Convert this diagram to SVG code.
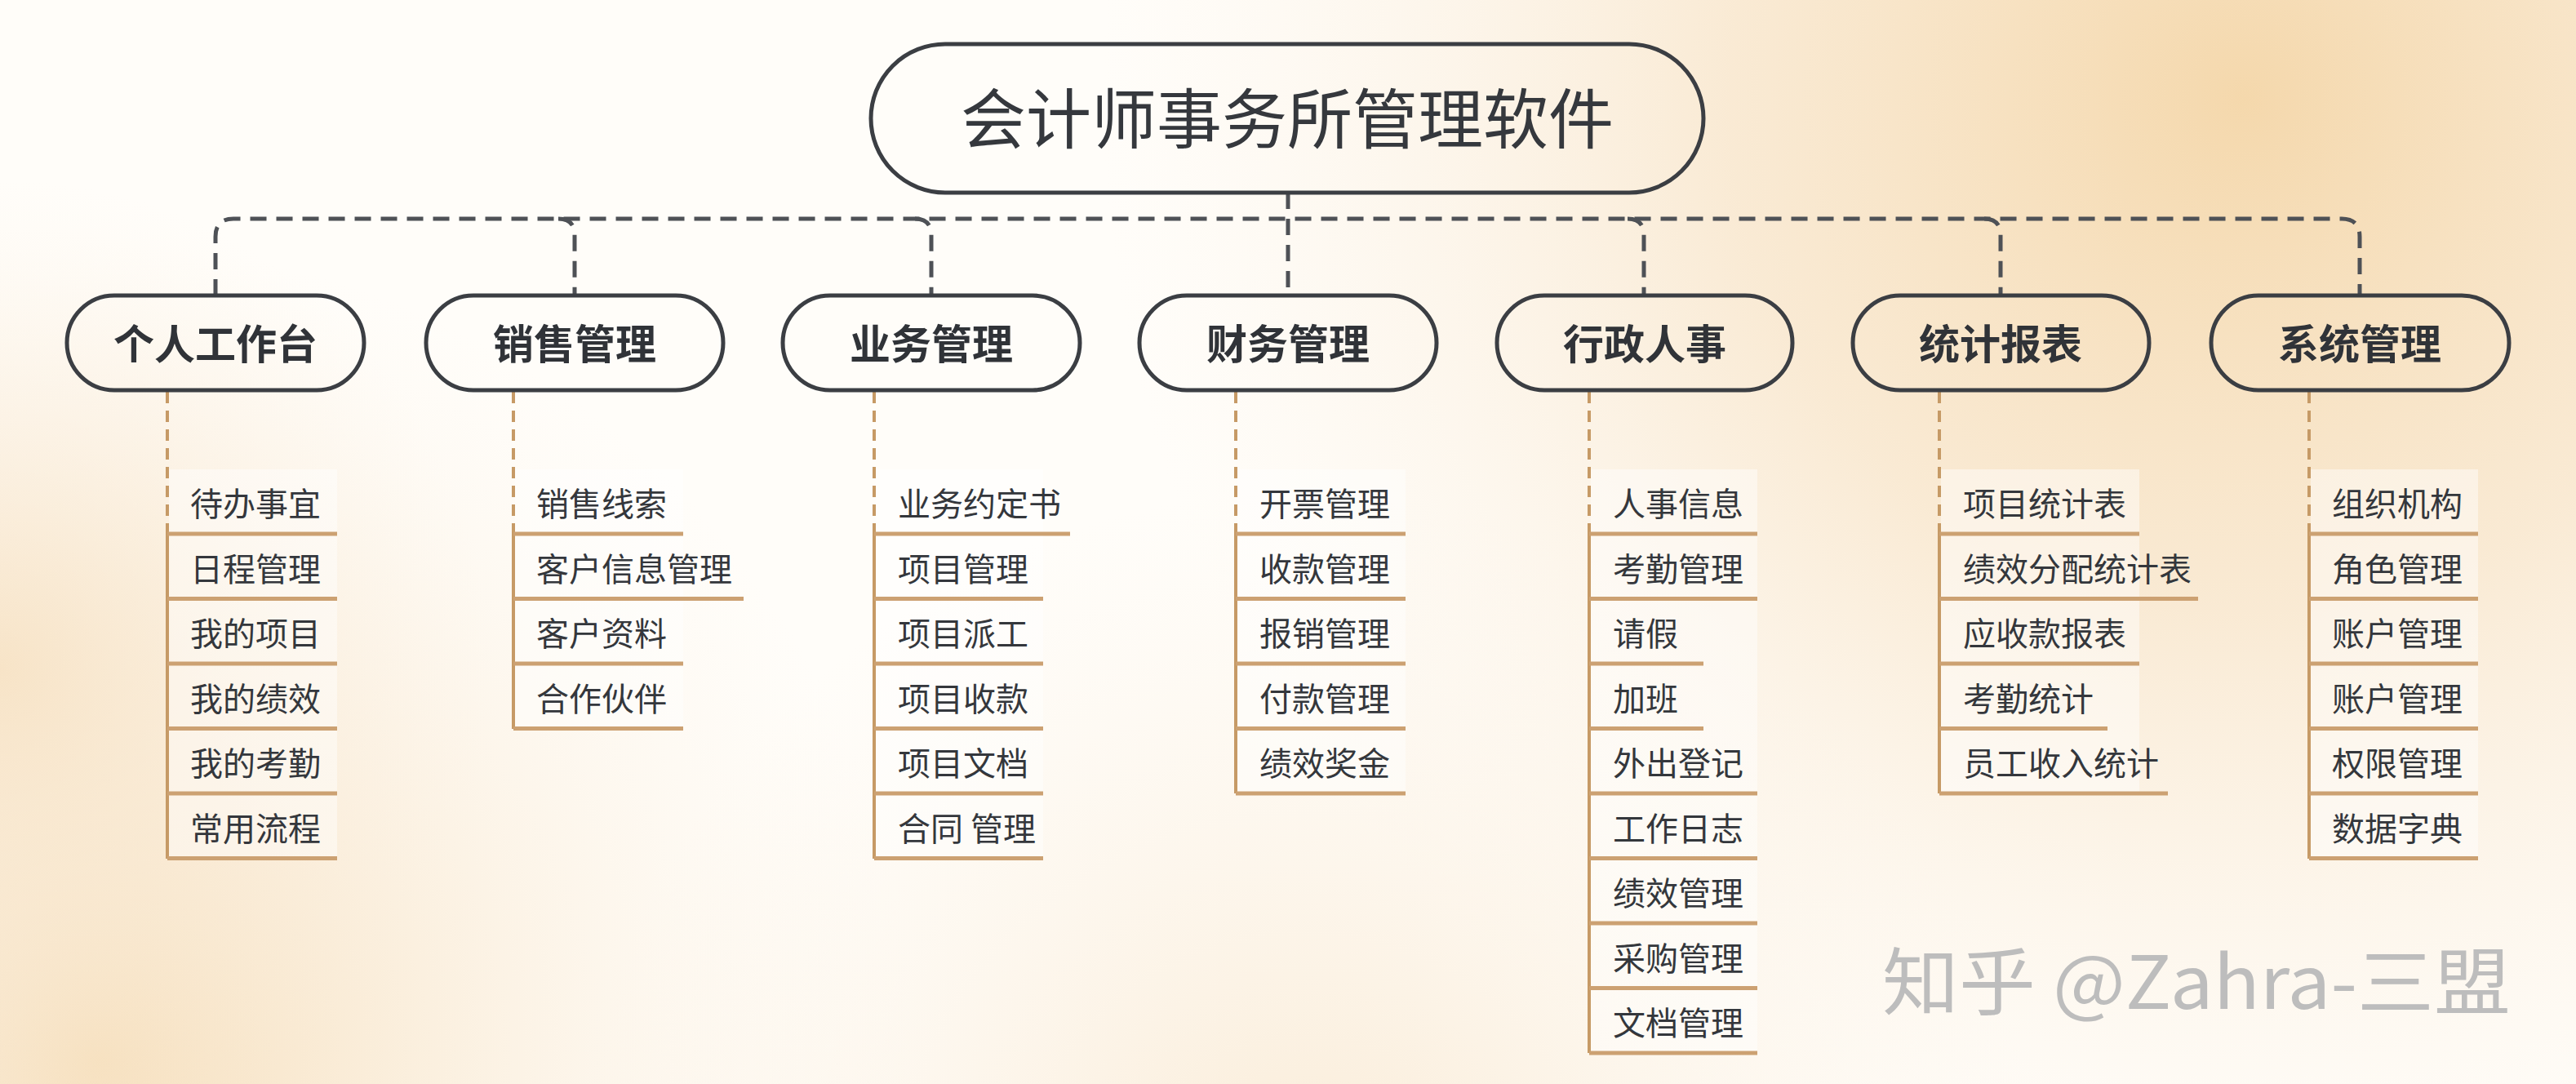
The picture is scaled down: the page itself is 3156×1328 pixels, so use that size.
<svg xmlns="http://www.w3.org/2000/svg" width="3156" height="1328" viewBox="0 0 3156 1328">
<defs>
<radialGradient id="gA" cx="2750" cy="120" r="1400" gradientUnits="userSpaceOnUse">
<stop offset="0" stop-color="#f4d6a8" stop-opacity="0.95"/>
<stop offset="0.45" stop-color="#f7e2c4" stop-opacity="0.7"/>
<stop offset="1" stop-color="#fbf1e4" stop-opacity="0"/>
</radialGradient>
<radialGradient id="gB" cx="120" cy="1300" r="1000" gradientUnits="userSpaceOnUse">
<stop offset="0" stop-color="#f5dcb6" stop-opacity="0.9"/>
<stop offset="1" stop-color="#fbf0e2" stop-opacity="0"/>
</radialGradient>
<radialGradient id="gC" cx="0" cy="820" r="600" gradientUnits="userSpaceOnUse">
<stop offset="0" stop-color="#f6e0c0" stop-opacity="0.8"/>
<stop offset="1" stop-color="#fbf0e2" stop-opacity="0"/>
</radialGradient>
<radialGradient id="gD" cx="1600" cy="1500" r="900" gradientUnits="userSpaceOnUse">
<stop offset="0" stop-color="#f7e3c6" stop-opacity="0.7"/>
<stop offset="1" stop-color="#fbf0e2" stop-opacity="0"/>
</radialGradient>
<style>
.box{fill:none;stroke:#3b3e43;stroke-width:5}
.root-t{font-family:"Noto Sans CJK SC","Noto Sans",sans-serif;font-size:80px;fill:#35383d;text-anchor:middle}
.cat-t{font-family:"Noto Sans CJK SC","Noto Sans",sans-serif;font-size:50px;font-weight:700;fill:#303338;text-anchor:middle}
.item-t{font-family:"Noto Sans CJK SC","Noto Sans",sans-serif;font-size:40px;fill:#34373c}
.bus{fill:none;stroke:#4e5156;stroke-width:5;stroke-dasharray:20 12}
.vdash{fill:none;stroke:#c69a66;stroke-width:4;stroke-dasharray:14 9}
.vsolid{fill:none;stroke:#c69a66;stroke-width:4}
.hl{fill:none;stroke:#cca172;stroke-width:5}
.cell{fill:#ffffff;fill-opacity:0.45}
.wm{font-family:"Noto Sans CJK SC","Noto Sans",sans-serif;font-size:90px;fill:#bdbdbd}
</style>
</defs>
<rect width="3156" height="1328" fill="#fffdf9"/>
<rect width="3156" height="1328" fill="url(#gA)"/>
<rect width="3156" height="1328" fill="url(#gB)"/>
<rect width="3156" height="1328" fill="url(#gC)"/>
<rect width="3156" height="1328" fill="url(#gD)"/>

<g id="connectors">
<path class="bus" d="M1578,236 V362"/>
<path class="bus" d="M264,362 V290 Q264,268 286,268 H2869 Q2891,268 2891,290 V362"/>
<path class="bus" d="M684,268 Q704,268 704,288 V362"/>
<path class="bus" d="M1121,268 Q1141,268 1141,288 V362"/>
<path class="bus" d="M1994,268 Q2014,268 2014,288 V362"/>
<path class="bus" d="M2431,268 Q2451,268 2451,288 V362"/>
<path class="vdash" d="M205,480 V654 M629,480 V654 M1071,480 V654 M1514,480 V654 M1947,480 V654 M2376,480 V654 M2829,480 V654"/>
<path class="vsolid" d="M205,654 V1052 M629,654 V893 M1071,654 V1052 M1514,654 V972 M1947,654 V1290 M2376,654 V972 M2829,654 V1052"/>
</g>

<g id="root">
<rect class="box" x="1067" y="54" width="1020" height="182" rx="91"/>
<text class="root-t" x="1577" y="175">会计师事务所管理软件</text>
</g>

<g id="cat-1"><rect class="box" x="82" y="362" width="364" height="116" rx="58"/><text class="cat-t" x="264" y="440">个人工作台</text></g>
<g id="cat-2"><rect class="box" x="522" y="362" width="364" height="116" rx="58"/><text class="cat-t" x="704" y="440">销售管理</text></g>
<g id="cat-3"><rect class="box" x="959" y="362" width="364" height="116" rx="58"/><text class="cat-t" x="1141" y="440">业务管理</text></g>
<g id="cat-4"><rect class="box" x="1396" y="362" width="364" height="116" rx="58"/><text class="cat-t" x="1578" y="440">财务管理</text></g>
<g id="cat-5"><rect class="box" x="1834" y="362" width="362" height="116" rx="58"/><text class="cat-t" x="2015" y="440">行政人事</text></g>
<g id="cat-6"><rect class="box" x="2270" y="362" width="363" height="116" rx="58"/><text class="cat-t" x="2451" y="440">统计报表</text></g>
<g id="cat-7"><rect class="box" x="2709" y="362" width="365" height="116" rx="58"/><text class="cat-t" x="2891" y="440">系统管理</text></g>

<g id="items-1">
<rect class="cell" x="207" y="575" width="206" height="477"/>
<path class="hl" d="M205,654 H413 M205,733.5 H413 M205,813 H413 M205,892.5 H413 M205,972 H413 M205,1051.5 H413"/>
<text class="item-t" x="233" y="632">待办事宜</text>
<text class="item-t" x="233" y="711.5">日程管理</text>
<text class="item-t" x="233" y="791">我的项目</text>
<text class="item-t" x="233" y="870.5">我的绩效</text>
<text class="item-t" x="233" y="950">我的考勤</text>
<text class="item-t" x="233" y="1029.5">常用流程</text>
</g>

<g id="items-2">
<rect class="cell" x="631" y="575" width="206" height="318"/>
<path class="hl" d="M629,654 H837 M629,733.5 H911 M629,813 H837 M629,892.5 H837"/>
<text class="item-t" x="657" y="632">销售线索</text>
<text class="item-t" x="657" y="711.5">客户信息管理</text>
<text class="item-t" x="657" y="791">客户资料</text>
<text class="item-t" x="657" y="870.5">合作伙伴</text>
</g>

<g id="items-3">
<rect class="cell" x="1073" y="575" width="205" height="477"/>
<path class="hl" d="M1071,654 H1311 M1071,733.5 H1278 M1071,813 H1278 M1071,892.5 H1278 M1071,972 H1278 M1071,1051.5 H1278"/>
<text class="item-t" x="1100" y="632">业务约定书</text>
<text class="item-t" x="1100" y="711.5">项目管理</text>
<text class="item-t" x="1100" y="791">项目派工</text>
<text class="item-t" x="1100" y="870.5">项目收款</text>
<text class="item-t" x="1100" y="950">项目文档</text>
<text class="item-t" x="1100" y="1029.5">合同 管理</text>
</g>

<g id="items-4">
<rect class="cell" x="1516" y="575" width="206" height="397"/>
<path class="hl" d="M1514,654 H1722 M1514,733.5 H1722 M1514,813 H1722 M1514,892.5 H1722 M1514,972 H1722"/>
<text class="item-t" x="1543" y="632">开票管理</text>
<text class="item-t" x="1543" y="711.5">收款管理</text>
<text class="item-t" x="1543" y="791">报销管理</text>
<text class="item-t" x="1543" y="870.5">付款管理</text>
<text class="item-t" x="1543" y="950">绩效奖金</text>
</g>

<g id="items-5">
<rect class="cell" x="1949" y="575" width="204" height="715"/>
<path class="hl" d="M1947,654 H2153 M1947,733.5 H2153 M1947,813 H2087 M1947,892.5 H2087 M1947,972 H2153 M1947,1051.5 H2153 M1947,1131 H2153 M1947,1210.5 H2153 M1947,1290 H2153"/>
<text class="item-t" x="1976" y="632">人事信息</text>
<text class="item-t" x="1976" y="711.5">考勤管理</text>
<text class="item-t" x="1976" y="791">请假</text>
<text class="item-t" x="1976" y="870.5">加班</text>
<text class="item-t" x="1976" y="950">外出登记</text>
<text class="item-t" x="1976" y="1029.5">工作日志</text>
<text class="item-t" x="1976" y="1109">绩效管理</text>
<text class="item-t" x="1976" y="1188.5">采购管理</text>
<text class="item-t" x="1976" y="1268">文档管理</text>
</g>

<g id="items-6">
<rect class="cell" x="2378" y="575" width="243" height="397"/>
<path class="hl" d="M2376,654 H2621 M2376,733.5 H2693 M2376,813 H2621 M2376,892.5 H2582 M2376,972 H2656"/>
<text class="item-t" x="2405" y="632">项目统计表</text>
<text class="item-t" x="2405" y="711.5">绩效分配统计表</text>
<text class="item-t" x="2405" y="791">应收款报表</text>
<text class="item-t" x="2405" y="870.5">考勤统计</text>
<text class="item-t" x="2405" y="950">员工收入统计</text>
</g>

<g id="items-7">
<rect class="cell" x="2831" y="575" width="205" height="477"/>
<path class="hl" d="M2829,654 H3036 M2829,733.5 H3036 M2829,813 H3036 M2829,892.5 H3036 M2829,972 H3036 M2829,1051.5 H3036"/>
<text class="item-t" x="2857" y="632">组织机构</text>
<text class="item-t" x="2857" y="711.5">角色管理</text>
<text class="item-t" x="2857" y="791">账户管理</text>
<text class="item-t" x="2857" y="870.5">账户管理</text>
<text class="item-t" x="2857" y="950">权限管理</text>
<text class="item-t" x="2857" y="1029.5">数据字典</text>
</g>

<text class="wm" x="2306" y="1236" textLength="770" lengthAdjust="spacingAndGlyphs">知乎 @Zahra-三盟</text>
</svg>
